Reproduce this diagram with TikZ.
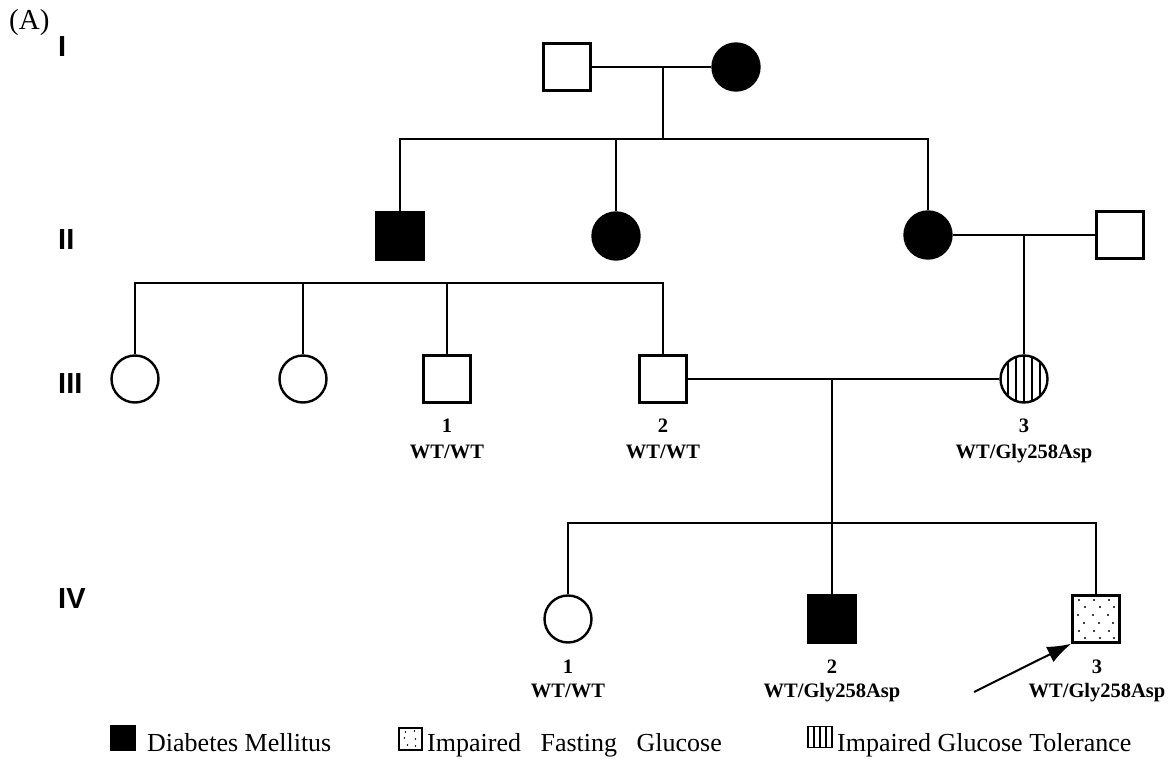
\documentclass[tikz,border=0pt]{standalone}
\usepackage{fontspec}
\setmainfont{Liberation Serif}
\newfontfamily\gensans{Liberation Sans}
\usetikzlibrary{arrows.meta}
\tikzset{
  sym/.style={draw, line width=2.4pt, inner sep=0pt, minimum size=47pt},
  male/.style={sym, rectangle},
  female/.style={sym, circle},
  aff/.style={fill=black},
  rel/.style={line width=2pt},
  genlbl/.style={anchor=base west, inner sep=0pt, font=\gensans\bfseries\fontsize{29}{32}\selectfont},
  idlbl/.style={anchor=base, inner sep=0pt, font=\bfseries\fontsize{20.5}{24}\selectfont},
  leglbl/.style={anchor=base west, inner sep=0pt, font=\fontsize{26}{30}\selectfont},
  vhatch/.style={path picture={
     \foreach \dx in {-16,-8,0,8,16}
       \draw[line width=1.6pt] ([xshift=\dx pt]path picture bounding box.north) -- ([xshift=\dx pt]path picture bounding box.south);}},
  dotted box/.style={path picture={
     \foreach \dx/\dy in {-17/-19,-2/-19,13/-19, -11/-12,4/-12,18/-12, -18/-4,-3/-4,12/-4, -12/4,3/4,17/4, -17/12,-2/12,13/12, -11/19,4/19,18/19}
       \fill (path picture bounding box.center) ++(\dx,\dy) circle (1.2pt);}},
}
\begin{document}
\begin{tikzpicture}[x=1pt,y=-1pt]
\useasboundingbox (0,0) rectangle (1171,759);
% panel and generation labels
\node[anchor=base west, inner sep=0pt, font=\fontsize{29}{32}\selectfont] (A) at (9,30) {(A)};
\node[genlbl] (gI) at (58,57) {I};
\node[genlbl] (gII) at (58,250) {II};
\node[genlbl] (gIII) at (58,394) {III};
\node[genlbl] (gIV) at (58,608) {IV};
% generation I
\node[male] (i1) at (567,67) {};
\node[female, aff] (i2) at (736,67) {};
% generation II
\node[male, aff] (ii1) at (400,236) {};
\node[female, aff] (ii2) at (616,236) {};
\node[female, aff] (ii3) at (928,235) {};
\node[male] (ii4) at (1120,235) {};
% generation III
\node[female] (iii1) at (135,379) {};
\node[female] (iii2) at (303,379) {};
\node[male] (iii3) at (447,379) {};
\node[male] (iii4) at (663,379) {};
\node[female, vhatch] (iii5) at (1024,379) {};
% generation IV
\node[female] (iv1) at (568,619) {};
\node[male, aff] (iv2) at (832,619) {};
\node[male, dotted box] (iv3) at (1096,619) {};
% coordinates for lines
\coordinate (m1) at (663,67);
\coordinate (s1) at (663,139);
\coordinate (m2) at (1024,235);
\coordinate (s2) at (400,283);
\coordinate (m3) at (832,379);
\coordinate (s3) at (832,523);
% connectors
\draw[rel] (i1) -- (i2);
\draw[rel] (m1) -- (s1);
\draw[rel] (ii1.north) -- (ii1.north |- s1) -- (ii3.north |- s1) -- (ii3.north);
\draw[rel] (ii2.north) -- (ii2.north |- s1);
\draw[rel] (ii3) -- (ii4);
\draw[rel] (m2) -- (iii5.north);
\draw[rel] (iii1.north) -- (iii1.north |- s2) -- (iii4.north |- s2) -- (iii4.north);
\draw[rel] (iii2.north) -- (iii2.north |- s2);
\draw[rel] (iii3.north) -- (iii3.north |- s2);
\draw[rel] (iii4) -- (iii5);
\draw[rel] (m3) -- (iv2.north);
\draw[rel] (iv1.north) -- (iv1.north |- s3) -- (iv3.north |- s3) -- (iv3.north);
% proband arrow
\coordinate (arr) at (974,692);
\draw[rel, -{Latex[length=24pt,width=17pt]}] (arr) -- (iv3.south west);
% individual labels
\node[idlbl] (n31) at (447,433) {1};
\node[idlbl] (g31) at (447,458) {WT/WT};
\node[idlbl] (n32) at (663,433) {2};
\node[idlbl] (g32) at (663,458) {WT/WT};
\node[idlbl] (n33) at (1024,433) {3};
\node[idlbl] (g33) at (1024,458) {WT/Gly258Asp};
\node[idlbl] (n41) at (568,673) {1};
\node[idlbl] (g41) at (568,697) {WT/WT};
\node[idlbl] (n42) at (832,673) {2};
\node[idlbl] (g42) at (832,697) {WT/Gly258Asp};
\node[idlbl] (n43) at (1097,673) {3};
\node[idlbl] (g43) at (1097,697) {WT/Gly258Asp};
% legend
\node[fill=black, minimum size=26pt, inner sep=0pt] (lg1) at (123,738) {};
\node[leglbl] (lt1) at (147,751) {Diabetes Mellitus};
\node[draw, line width=1.6pt, minimum width=23pt, minimum height=22pt, inner sep=0pt,
  path picture={\foreach \dx/\dy in {-5/-7,4/-8,-6/-1,5/0,-3/6,5/7}
    \fill (path picture bounding box.center) ++(\dx,\dy) circle (0.9pt);}] (lg2) at (410.5,739) {};
\node[leglbl] (lt2) at (427,751) {Impaired\hspace{0.75em}Fasting\hspace{0.75em}Glucose};
\node[draw, line width=1.6pt, minimum width=24pt, minimum height=21pt, inner sep=0pt,
  path picture={\foreach \dx in {-6,0,6}
    \draw[line width=1.4pt] ([xshift=\dx pt]path picture bounding box.north) -- ([xshift=\dx pt]path picture bounding box.south);}] (lg3) at (820,737) {};
\node[leglbl] (lt3) at (837,751) {Impaired Glucose Tolerance};
\end{tikzpicture}
\end{document}
